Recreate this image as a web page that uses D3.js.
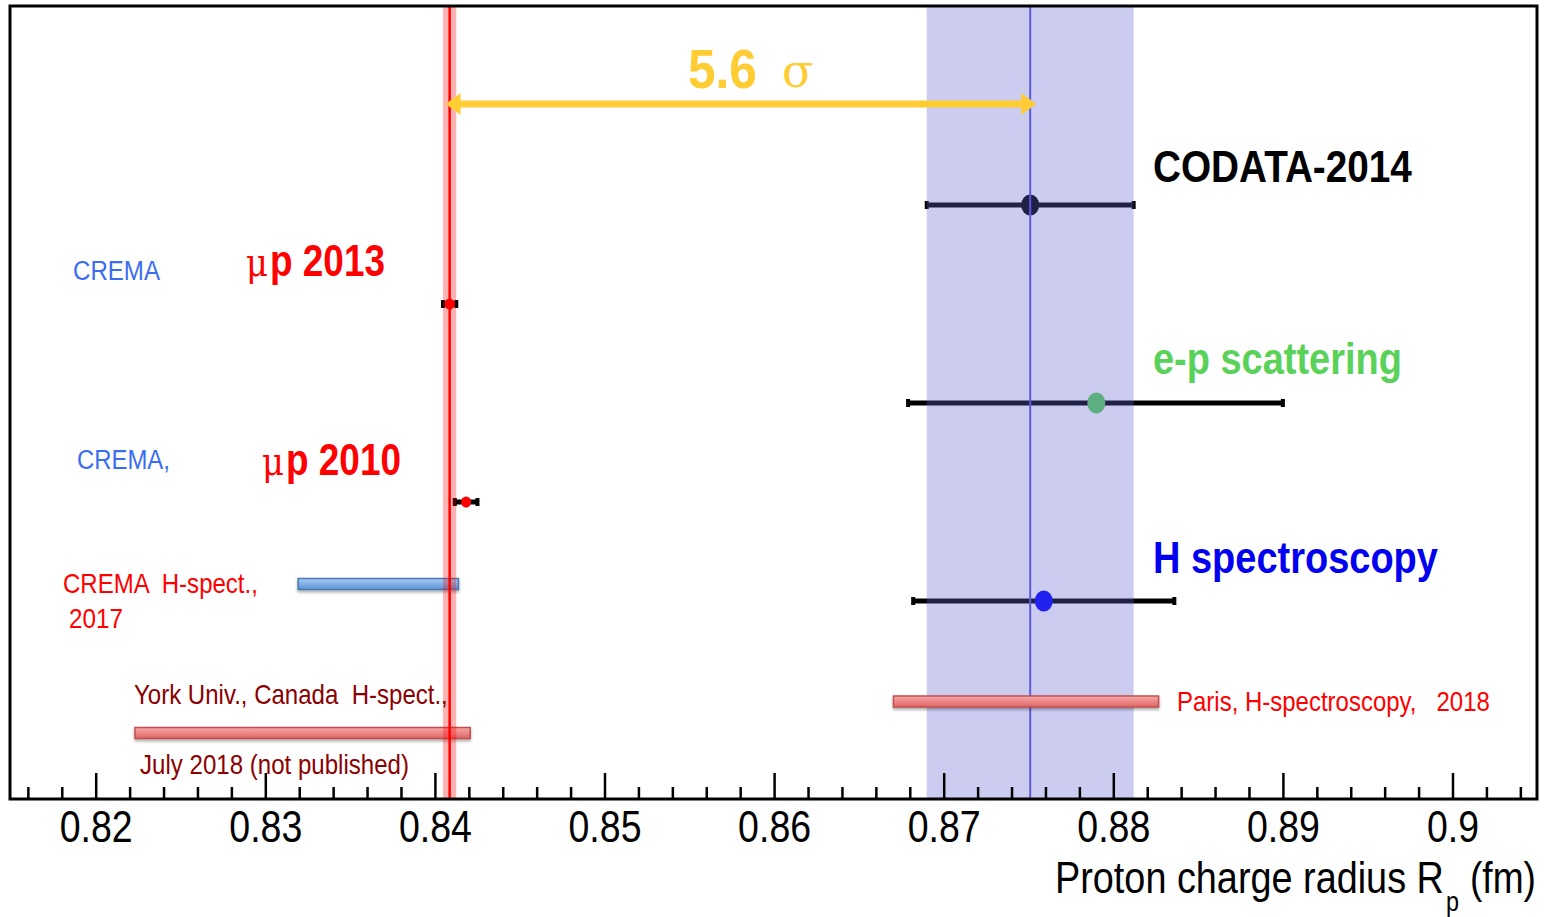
<!DOCTYPE html>
<html><head><meta charset="utf-8">
<script src="https://cdn.jsdelivr.net/npm/d3@7"></script>
<style>html,body{margin:0;padding:0;background:#fff;}svg{display:block;} text{white-space:pre;}</style>
</head><body>
<svg id="chart" width="1549" height="917"></svg>
<script>
// ---------- data ----------
const xTicksMajor = [0.82, 0.83, 0.84, 0.85, 0.86, 0.87, 0.88, 0.89, 0.90];
const xTickLabels = ["0.82","0.83","0.84","0.85","0.86","0.87","0.88","0.89","0.9"];
const pointNames   = ["CODATA-2014", "μp 2013", "e-p scattering", "μp 2010", "H spectroscopy"];
const pointValues  = [0.8751, 0.84087, 0.8790, 0.84184, 0.8759];
const pointErrLow  = [0.0061, 0.00039, 0.0111, 0.00067, 0.0077];
const pointErrHigh = [0.0061, 0.00039, 0.0110, 0.00067, 0.0077];
const pointColors  = ["#000000", "#ff0000", "#5ad25a", "#ff0000", "#0000ff"];
const barNames  = ["CREMA H-spect. 2017", "Paris H-spect. 2018", "York H-spect. 2018"];
const barLow    = [0.83194, 0.86704, 0.82232];
const barHigh   = [0.84139, 0.88267, 0.84208];
const muonValue = 0.84087, muonErr = 0.00039;
const codataValue = 0.8751, codataErr = 0.0061;
const sigmaLabel = "5.6";

// ---------- layout ----------
const frame = {l: 10, r: 1537, t: 6, b: 799};
const FONT = "'Liberation Sans Narrow','Arial Narrow','Liberation Sans',Arial,sans-serif";
const SERIF = "'DejaVu Serif','Liberation Serif',serif";
const svg = d3.select("#chart");
const x = d3.scaleLinear().domain([0.82, 0.90]).range([95.7, 1452.5]);
const yRow = d3.scalePoint().domain(pointNames).range([205, 601]);
const barY = {"CREMA H-spect. 2017": 584, "Paris H-spect. 2018": 701.5, "York H-spect. 2018": 733};
const barFill = {"CREMA H-spect. 2017": "blueGrad", "Paris H-spect. 2018": "redGrad", "York H-spect. 2018": "redGrad"};
const barStroke = {"CREMA H-spect. 2017": "#4a78b0", "Paris H-spect. 2018": "#c05050", "York H-spect. 2018": "#c05050"};

const defs = svg.append("defs");
const bg = defs.append("linearGradient").attr("id","blueGrad").attr("x1",0).attr("y1",0).attr("x2",0).attr("y2",1);
bg.append("stop").attr("offset","0%").attr("stop-color","#a8cdf5");
bg.append("stop").attr("offset","100%").attr("stop-color","#5a92d6");
const rg = defs.append("linearGradient").attr("id","redGrad").attr("x1",0).attr("y1",0).attr("x2",0).attr("y2",1);
rg.append("stop").attr("offset","0%").attr("stop-color","#f7a8a8");
rg.append("stop").attr("offset","100%").attr("stop-color","#e06565");
const sh = defs.append("filter").attr("id","shadow").attr("x","-10%").attr("y","-100%").attr("width","120%").attr("height","300%");
sh.append("feDropShadow").attr("dx",0).attr("dy",2).attr("stdDeviation",1.5).attr("flood-color","#000").attr("flood-opacity",0.35);

// ---------- error bars and points ----------
const pts = pointNames.map((n,i)=>({n, v:pointValues[i], lo:pointValues[i]-pointErrLow[i], hi:pointValues[i]+pointErrHigh[i], c:pointColors[i]}));
const big = n => !n.startsWith("μp");
const gP = svg.append("g");
gP.selectAll("line.eb").data(pts).join("line")
  .attr("x1",d=>x(d.lo)).attr("x2",d=>x(d.hi))
  .attr("y1",d=>yRow(d.n)).attr("y2",d=>yRow(d.n))
  .attr("stroke","#000").attr("stroke-width",5);
gP.selectAll("rect.capL").data(pts).join("rect")
  .attr("x",d=>x(d.lo)-2).attr("y",d=>yRow(d.n)-4)
  .attr("width",4).attr("height",8).attr("fill","#000");
gP.selectAll("rect.capR").data(pts).join("rect")
  .attr("x",d=>x(d.hi)-2).attr("y",d=>yRow(d.n)-4)
  .attr("width",4).attr("height",8).attr("fill","#000");
gP.selectAll("ellipse").data(pts).join("ellipse")
  .attr("cx",d=>x(d.v)).attr("cy",d=>yRow(d.n))
  .attr("rx",d=>big(d.n)?9:5).attr("ry",d=>big(d.n)?10.5:5.5)
  .attr("fill",d=>d.c);

// ---------- CODATA band ----------
svg.append("rect").attr("x",x(codataValue-codataErr)).attr("y",frame.t)
  .attr("width",x(codataValue+codataErr)-x(codataValue-codataErr)).attr("height",frame.b-frame.t)
  .attr("fill","rgb(100,100,210)").attr("fill-opacity",0.33);
svg.append("line").attr("x1",x(codataValue)).attr("x2",x(codataValue))
  .attr("y1",frame.t).attr("y2",frame.b).attr("stroke","#5b5be0").attr("stroke-width",2);

// ---------- hydrogen spectroscopy bars ----------
const bars = barNames.map((n,i)=>({n, lo:barLow[i], hi:barHigh[i]}));
svg.append("g").selectAll("rect").data(bars).join("rect")
  .attr("x",d=>x(d.lo)).attr("y",d=>barY[d.n]-5.5)
  .attr("width",d=>x(d.hi)-x(d.lo)).attr("height",11)
  .attr("fill",d=>`url(#${barFill[d.n]})`).attr("stroke",d=>barStroke[d.n]).attr("stroke-width",1.5)
  .attr("filter","url(#shadow)");

// ---------- muonic band ----------
svg.append("rect").attr("x",x(muonValue-muonErr)).attr("y",frame.t)
  .attr("width",x(muonValue+muonErr)-x(muonValue-muonErr)).attr("height",frame.b-frame.t)
  .attr("fill","rgb(255,0,0)").attr("fill-opacity",0.3);
svg.append("line").attr("x1",x(muonValue)).attr("x2",x(muonValue))
  .attr("y1",frame.t).attr("y2",frame.b).attr("stroke","#ff0000").attr("stroke-width",2.5);

// ---------- 5.6 sigma arrow ----------
const ay = 104;
const ax1 = x(muonValue) - 4, ax2 = x(codataValue) + 6;
svg.append("line").attr("x1",ax1+10).attr("x2",ax2-10).attr("y1",ay).attr("y2",ay)
  .attr("stroke","#ffcc33").attr("stroke-width",7);
svg.append("path").attr("d",`M${ax1},${ay} L${ax1+15},${ay-11} L${ax1+15},${ay+11} Z`).attr("fill","#ffcc33");
svg.append("path").attr("d",`M${ax2},${ay} L${ax2-15},${ay-11} L${ax2-15},${ay+11} Z`).attr("fill","#ffcc33");

// ---------- text helper: scale horizontally so the natural width fits the target ----------
function fitText(t, x0, y0, size, color, opts={}){
  const e = svg.append("text").attr("x",0).attr("y",0)
    .attr("font-family",opts.family||FONT).attr("font-size",size).attr("fill",color)
    .attr("font-weight",opts.bold?"bold":"normal").text(t);
  let s = 1;
  if(opts.len){ const w = e.node().getComputedTextLength(); if(w>0) s = opts.len/w; }
  e.attr("transform",`translate(${x0},${y0}) scale(${s},1)`);
  return e;
}
fitText(sigmaLabel, 688, 88, 56, "#ffcc33", {bold:true, len:69});
fitText("σ", 782, 87, 46, "#ffcc33", {family:SERIF});

// ---------- frame and axis ----------
svg.append("rect").attr("x",frame.l).attr("y",frame.t).attr("width",frame.r-frame.l).attr("height",frame.b-frame.t)
  .attr("fill","none").attr("stroke","#000").attr("stroke-width",3);
const minorTicks = d3.range(408, 453).map(k=>k*0.002).filter(v=>!xTicksMajor.some(m=>Math.abs(m-v)<1e-6));
const gMinor = svg.append("g").attr("transform",`translate(0,${frame.b})`)
  .call(d3.axisBottom(x).tickValues(minorTicks).tickSize(-12).tickFormat(""));
gMinor.select(".domain").remove();
gMinor.selectAll("line").attr("stroke","#000").attr("stroke-width",2.5);
const gMajor = svg.append("g").attr("transform",`translate(0,${frame.b})`)
  .call(d3.axisBottom(x).tickValues(xTicksMajor).tickSize(-26).tickPadding(12).tickFormat((d,i)=>xTickLabels[i]));
gMajor.select(".domain").remove();
gMajor.selectAll("line").attr("stroke","#000").attr("stroke-width",2.5);
gMajor.selectAll("text").attr("font-family",FONT).attr("font-size",44).attr("fill","#000")
  .attr("textLength",(d,i)=>xTickLabels[i].length===4?73:52).attr("lengthAdjust","spacingAndGlyphs");

// axis title (main text, subscript, unit)
fitText("Proton charge radius R", 1055, 893, 44, "#000", {len:389});
fitText("p", 1446, 911, 28, "#000", {len:13});
fitText("(fm)", 1470, 893, 44, "#000", {len:66});

// ---------- labels ----------
function muLab(t, x0, y0){
  fitText("μ", x0, y0, 40, "#ff0000", {family:SERIF, len:22});
  fitText(t, x0+24, y0, 44, "#ff0000", {bold:true, len:115});
}
fitText(pointNames[0], 1153, 182, 44, "#000", {bold:true, len:259});
fitText(pointNames[2], 1153, 374, 44, "#5ad25a", {bold:true, len:249});
fitText(pointNames[4], 1153, 573, 44, "#0000ee", {bold:true, len:285});
muLab("p 2013", 246, 276);
muLab("p 2010", 262, 475);
fitText("CREMA", 73, 280, 28, "#3a6cf0", {len:87});
fitText("CREMA,", 77, 469, 28, "#3a6cf0", {len:93});
fitText("CREMA  H-spect.,", 63, 593, 28, "#ff0000", {len:195});
fitText("2017", 69, 628, 28, "#ff0000", {len:54});
fitText("York Univ., Canada  H-spect.,", 134, 704, 28, "#8b0000", {len:314});
fitText("July 2018 (not published)", 140, 774, 28, "#8b0000", {len:269});
fitText("Paris, H-spectroscopy,   2018", 1177, 711, 28, "#ff0000", {len:313});
</script>
</body></html>
